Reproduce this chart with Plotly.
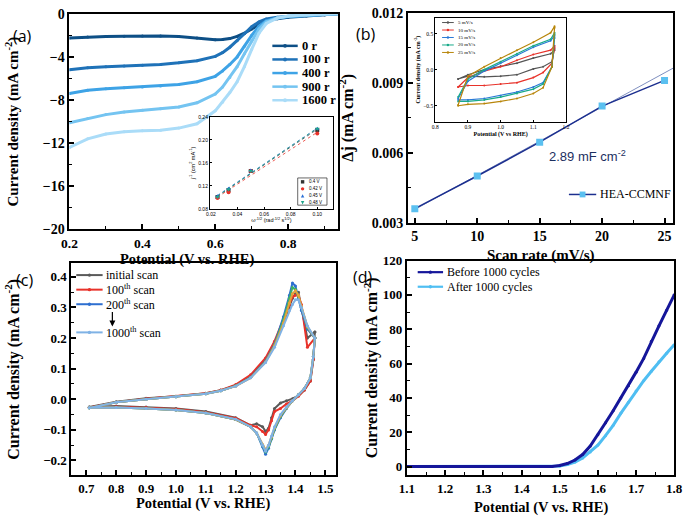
import plotly.graph_objects as go
import numpy as np

W, H = 693, 523

# ---------------- Panel (a): LSV at different rotation rates ----------------
pot_a = [0.2, 0.25, 0.3, 0.35, 0.4, 0.45, 0.5, 0.55, 0.6, 0.62, 0.64, 0.66, 0.68, 0.7, 0.72, 0.74, 0.77, 0.8, 0.85, 0.9, 0.935]
j_0r = [-2.25, -2.15, -2.1, -2.08, -2.05, -2.05, -2.1, -2.25, -2.4, -2.38, -2.3, -2.1, -1.8, -1.4, -1.0, -0.65, -0.45, -0.32, -0.2, -0.1, 0.0]
j_100r = [-5.2, -5.0, -4.9, -4.85, -4.78, -4.7, -4.55, -4.35, -3.95, -3.6, -3.1, -2.5, -1.85, -1.2, -0.75, -0.48, -0.32, -0.25, -0.15, -0.07, 0.0]
j_400r = [-7.4, -7.1, -6.95, -6.85, -6.78, -6.7, -6.55, -6.3, -5.8, -5.3, -4.7, -4.0, -3.0, -2.0, -1.15, -0.65, -0.38, -0.25, -0.15, -0.06, 0.0]
j_900r = [-10.1, -9.7, -9.35, -9.1, -8.95, -8.8, -8.65, -8.25, -7.45, -6.8, -5.9, -4.9, -3.7, -2.5, -1.4, -0.75, -0.38, -0.22, -0.12, -0.05, 0.0]
j_1600r = [-12.4, -11.6, -11.15, -10.95, -10.85, -10.8, -10.6, -10.2, -9.0, -8.2, -7.3, -6.3, -4.9, -3.3, -1.8, -0.9, -0.4, -0.2, -0.08, -0.03, 0.0]
names_a = ["0 r", "100 r", "400 r", "900 r", "1600 r"]
colors_a = ["#0d4f86", "#1f72b8", "#3ea3e6", "#74c4f1", "#aadcf8"]

# ---------------- Inset (a): K-L plot ----------------
omega_kl = [0.025, 0.0333, 0.05, 0.1]
kl_040 = [0.101, 0.113, 0.146, 0.217]
kl_042 = [0.099, 0.109, 0.146, 0.211]
kl_045 = [0.102, 0.115, 0.147, 0.219]
kl_048 = [0.101, 0.114, 0.146, 0.219]
names_kl = ["0.4 V", "0.42 V", "0.45 V", "0.48 V"]
colors_kl = ["#333333", "#e8322a", "#2a6fd6", "#1fa58a"]
symbols_kl = ["square", "circle", "triangle-up", "triangle-down"]

# ---------------- Panel (b): Cdl ----------------
scan_rate = [5, 10, 15, 20, 25]
delta_j = [0.0036, 0.0050, 0.00645, 0.0080, 0.0091]
cdl_label = "2.89 mF cm<sup>-2</sup>"
name_b = "HEA-CCMNF"

# ---------------- Inset (b): CVs at scan rates ----------------
cv_names = ["5 mV/s", "10 mV/s", "15 mV/s", "20 mV/s", "25 mV/s"]
cv_colors = ["#555555", "#e8322a", "#2a7ad6", "#1aaa8a", "#b8860b"]
cv_pot = [0.87, 0.9, 0.95, 1.0, 1.05, 1.1, 1.153, 1.165, 1.165, 1.157, 1.13, 1.1, 1.05, 1.0, 0.95, 0.9, 0.87]
cv_5 = [-0.13, -0.07, 0.0, 0.05, 0.09, 0.16, 0.22, 0.27, 0.29, 0.11, 0.04, 0.01, -0.07, -0.09, -0.1, -0.09, -0.13]
cv_10 = [-0.24, -0.11, -0.02, 0.04, 0.13, 0.21, 0.27, 0.33, 0.31, 0.09, -0.04, -0.11, -0.18, -0.2, -0.22, -0.22, -0.24]
cv_15 = [-0.4, -0.16, -0.02, 0.09, 0.2, 0.31, 0.4, 0.47, 0.44, 0.04, -0.18, -0.24, -0.31, -0.36, -0.4, -0.42, -0.42]
cv_20 = [-0.38, -0.13, 0.0, 0.11, 0.22, 0.33, 0.42, 0.51, 0.49, 0.04, -0.2, -0.27, -0.33, -0.38, -0.42, -0.44, -0.44]
cv_25 = [-0.49, -0.09, 0.04, 0.16, 0.27, 0.38, 0.51, 0.6, 0.58, 0.04, -0.25, -0.33, -0.4, -0.44, -0.47, -0.48, -0.5]

# ---------------- Panel (c): CV stability ----------------
pot_c = [0.71, 0.8, 0.9, 1.0, 1.1, 1.15, 1.2, 1.25, 1.3, 1.33, 1.36, 1.38, 1.39, 1.40, 1.41, 1.42, 1.44, 1.465,
         1.465, 1.46, 1.45, 1.43, 1.41, 1.39, 1.37, 1.35, 1.33, 1.32, 1.31, 1.30, 1.29, 1.27, 1.25, 1.2, 1.1, 1.0, 0.9, 0.8, 0.71]
cv_initial = [-0.025, -0.008, 0.003, 0.01, 0.02, 0.03, 0.045, 0.075, 0.13, 0.18, 0.25, 0.30, 0.33, 0.345, 0.35, 0.3, 0.2, 0.22,
              0.22, 0.13, 0.06, 0.03, 0.012, 0.002, -0.005, -0.012, -0.03, -0.06, -0.095, -0.105, -0.09, -0.08, -0.085, -0.06, -0.04, -0.03, -0.025, -0.022, -0.025]
cv_100 = [-0.027, -0.01, 0.002, 0.01, 0.02, 0.03, 0.048, 0.08, 0.135, 0.19, 0.26, 0.31, 0.335, 0.34, 0.34, 0.31, 0.17, 0.2,
          0.2, 0.13, 0.06, 0.03, 0.01, -0.005, -0.015, -0.03, -0.04, -0.07, -0.1, -0.115, -0.105, -0.09, -0.085, -0.062, -0.042, -0.032, -0.027, -0.024, -0.027]
cv_200 = [-0.028, -0.01, 0.0, 0.008, 0.018, 0.028, 0.044, 0.072, 0.125, 0.18, 0.27, 0.34, 0.38, 0.37, 0.33, 0.29, 0.23, 0.2,
          0.2, 0.14, 0.07, 0.035, 0.015, -0.005, -0.03, -0.06, -0.1, -0.13, -0.16, -0.18, -0.155, -0.11, -0.09, -0.066, -0.045, -0.035, -0.03, -0.027, -0.028]
cv_500 = [-0.028, -0.01, 0.0, 0.008, 0.018, 0.028, 0.044, 0.071, 0.123, 0.177, 0.26, 0.33, 0.365, 0.36, 0.335, 0.3, 0.235, 0.2,
          0.2, 0.14, 0.07, 0.035, 0.015, -0.005, -0.028, -0.056, -0.097, -0.127, -0.155, -0.172, -0.15, -0.11, -0.09, -0.066, -0.045, -0.035, -0.03, -0.027, -0.028]
cv_800 = [-0.028, -0.01, 0.0, 0.008, 0.018, 0.028, 0.043, 0.07, 0.122, 0.175, 0.25, 0.315, 0.345, 0.355, 0.34, 0.305, 0.238, 0.2,
          0.2, 0.14, 0.07, 0.035, 0.015, -0.005, -0.027, -0.053, -0.093, -0.123, -0.15, -0.165, -0.148, -0.11, -0.09, -0.066, -0.045, -0.035, -0.03, -0.027, -0.028]
cv_1000 = [-0.028, -0.01, 0.0, 0.008, 0.018, 0.028, 0.043, 0.07, 0.12, 0.17, 0.24, 0.29, 0.31, 0.325, 0.325, 0.3, 0.24, 0.2,
           0.2, 0.14, 0.07, 0.035, 0.015, -0.005, -0.025, -0.05, -0.09, -0.12, -0.15, -0.17, -0.15, -0.11, -0.09, -0.065, -0.045, -0.035, -0.03, -0.027, -0.028]
names_c = ["initial scan", "100<sup>th</sup> scan", "200<sup>th</sup> scan", "1000<sup>th</sup> scan"]

# ---------------- Panel (d): LSV before/after ----------------
pot_d = [1.1, 1.2, 1.3, 1.4, 1.45, 1.48, 1.5, 1.52, 1.54, 1.56, 1.58, 1.6, 1.62, 1.64, 1.66, 1.68, 1.7, 1.72, 1.74, 1.76, 1.78, 1.8]
j_before = [0, 0, 0, 0, 0, 0.1, 0.6, 1.8, 3.8, 7.0, 12.0, 18.5, 25.5, 32.5, 40, 47, 55, 63, 73, 82, 91, 100]
j_after = [0, 0, 0, 0, 0, 0.05, 0.4, 1.2, 2.6, 5.0, 8.5, 12.5, 18, 24, 31, 37.5, 44, 50, 55.5, 61, 66, 71]
names_d = ["Before 1000 cycles", "After 1000 cycles"]


def dom_x(a, b):
    return [a / W, b / W]


def dom_y(top, bottom):
    return [1 - bottom / H, 1 - top / H]


def PX(px):
    return px / W


def PY(py):
    return 1 - py / H


SERIF = "Liberation Serif"
SANS = "Liberation Sans"

fig = go.Figure()
shapes = []
annots = []


def legend_entry(x0, x1, y, text, color, lw=2.5, marker="circle", ms=4, mcolor=None, size=12, family=SERIF,
                 weight="normal", tx=None, line=True):
    """Manual legend key: line segment + marker + label (pixel positions)."""
    mcolor = mcolor or color
    if line:
        shapes.append(dict(type="line", xref="paper", yref="paper", x0=PX(x0), x1=PX(x1), y0=PY(y), y1=PY(y),
                           line=dict(color=color, width=lw)))
    xc = (x0 + x1) / 2
    r = ms / 2
    if marker in ("circle", "square"):
        shapes.append(dict(type="circle" if marker == "circle" else "rect", xref="paper", yref="paper",
                           x0=PX(xc - r), x1=PX(xc + r), y0=PY(y + r), y1=PY(y - r),
                           fillcolor=mcolor, line=dict(width=0)))
    elif marker in ("triangle-up", "triangle-down"):
        s = 1 if marker == "triangle-up" else -1
        path = "M {:.5f},{:.5f} L {:.5f},{:.5f} L {:.5f},{:.5f} Z".format(
            PX(xc), PY(y - s * r), PX(xc - r), PY(y + s * r), PX(xc + r), PY(y + s * r))
        shapes.append(dict(type="path", xref="paper", yref="paper", path=path, fillcolor=mcolor, line=dict(width=0)))
    annots.append(dict(text=text, x=PX(tx if tx is not None else x1 + 2), y=PY(y), xref="paper", yref="paper",
                       xanchor="left", yanchor="middle", showarrow=False,
                       font=dict(family=family, size=size, color="black", weight=weight)))


def text_at(text, x, y, size, family=SERIF, weight="bold", angle=0, color="black", xanchor="center"):
    annots.append(dict(text=text, x=PX(x), y=PY(y), xref="paper", yref="paper", xanchor=xanchor,
                       yanchor="middle", showarrow=False, textangle=angle,
                       font=dict(family=family, size=size, color=color, weight=weight)))


# Panel (a)
for nm, yy, c in zip(names_a, [j_0r, j_100r, j_400r, j_900r, j_1600r], colors_a):
    fig.add_trace(go.Scatter(x=pot_a, y=yy, name=nm, mode="lines+markers", xaxis="x", yaxis="y",
                             line=dict(color=c, width=3), marker=dict(size=3, color=c)))
for i, (nm, c) in enumerate(zip(names_a, colors_a)):
    legend_entry(271, 297, 40 + 14 * i, nm, c, lw=2.5, ms=4, size=12.5, weight="bold", tx=299)

# Inset (a)
for nm, yy, c, s in zip(names_kl, [kl_040, kl_042, kl_045, kl_048], colors_kl, symbols_kl):
    p = np.polyfit(omega_kl, yy, 1)
    fx = [omega_kl[0], omega_kl[-1]]
    fig.add_trace(go.Scatter(x=fx, y=np.polyval(p, fx), mode="lines", xaxis="x2", yaxis="y2",
                             line=dict(color=c, width=0.8, dash="dot")))
    fig.add_trace(go.Scatter(x=omega_kl, y=yy, name=nm, mode="markers", xaxis="x2", yaxis="y2",
                             marker=dict(size=4, color=c, symbol=s)))
shapes.append(dict(type="rect", xref="paper", yref="paper", x0=PX(297), x1=PX(327), y0=PY(204), y1=PY(176),
                   line=dict(color="black", width=0.6), fillcolor="white"))
for i, (nm, c, s) in enumerate(zip(names_kl, colors_kl, symbols_kl)):
    legend_entry(300, 304, 180 + 7.2 * i, nm, c, marker=s, ms=3.5, size=4.5, family=SANS, tx=307, line=False)

# Panel (b)
pb = np.polyfit(scan_rate[:4], delta_j[:4], 1)
fxb = [scan_rate[0], 25.7]
fig.add_trace(go.Scatter(x=fxb, y=np.polyval(pb, fxb), mode="lines", xaxis="x3", yaxis="y3",
                         line=dict(color="#7f8fbf", width=1)))
fig.add_trace(go.Scatter(x=scan_rate, y=delta_j, name=name_b, mode="lines+markers", xaxis="x3", yaxis="y3",
                         line=dict(color="#1c2f8f", width=1.5), marker=dict(size=7, color="#5bc0f0", symbol="square")))
legend_entry(575, 603, 193, name_b, "#1c2f8f", lw=1.5, marker="square", ms=6, mcolor="#5bc0f0", size=12, tx=605)

# Inset (b)
for nm, yy, c in zip(cv_names, [cv_5, cv_10, cv_15, cv_20, cv_25], cv_colors):
    fig.add_trace(go.Scatter(x=cv_pot, y=yy, name=nm, mode="lines+markers", xaxis="x4", yaxis="y4",
                             line=dict(color=c, width=1.2), marker=dict(size=2, color=c)))
for i, (nm, c) in enumerate(zip(cv_names, cv_colors)):
    legend_entry(445, 457, 16 + 7.7 * i, nm, c, lw=1, ms=2.5, size=5, tx=459)

# Panel (c)
c_all = [(cv_initial, "#5a5a5a"), (cv_100, "#e8322a"), (cv_200, "#2e6fd0"), (cv_500, "#3cb06a"),
         (cv_800, "#e3a23a"), (cv_1000, "#7fb2e5")]
for yy, c in c_all:
    fig.add_trace(go.Scatter(x=pot_c, y=yy, mode="lines+markers", xaxis="x5", yaxis="y5",
                             line=dict(color=c, width=2), marker=dict(size=3, color=c)))
legend_c_y = [276, 291, 306, 335]
legend_c_col = ["#5a5a5a", "#e8322a", "#2e6fd0", "#7fb2e5"]
for nm, y, c in zip(names_c, legend_c_y, legend_c_col):
    legend_entry(70, 97, y, nm, c, lw=2, ms=3.5, size=12, tx=98)
annots.append(dict(text="", x=PX(107), y=PY(329), ax=0, ay=-16, xref="paper", yref="paper",
                   axref="pixel", ayref="pixel", showarrow=True, arrowhead=2, arrowsize=1, arrowwidth=1.2,
                   arrowcolor="black"))

# Panel (d)
fig.add_trace(go.Scatter(x=pot_d, y=j_after, name=names_d[1], mode="lines+markers", xaxis="x6", yaxis="y6",
                         line=dict(color="#4fbef2", width=3), marker=dict(size=3, color="#4fbef2")))
fig.add_trace(go.Scatter(x=pot_d, y=j_before, name=names_d[0], mode="lines+markers", xaxis="x6", yaxis="y6",
                         line=dict(color="#15169a", width=3), marker=dict(size=3, color="#15169a")))
legend_entry(420, 446, 273, names_d[0], "#15169a", lw=2.2, ms=3.5, size=12, tx=448)
legend_entry(420, 446, 288, names_d[1], "#4fbef2", lw=2.2, ms=3.5, size=12, tx=448)


def main_axis(domain, rng, dtick, mdtick, title, anchor, fmt=None, size=14, tsize=16, standoff=None):
    d = dict(domain=domain, range=rng, dtick=dtick, anchor=anchor, showline=True, mirror=True, linecolor="black",
             linewidth=2, ticks="inside", ticklen=5, tickwidth=1.5, tickcolor="black", showgrid=False, zeroline=False,
             tickfont=dict(family=SERIF, size=size, color="black", weight="bold"),
             title=dict(text=title, font=dict(family=SERIF, size=tsize, color="black", weight="bold")),
             minor=dict(dtick=mdtick, ticks="inside", ticklen=3, tickwidth=1, tickcolor="black", showgrid=False))
    if fmt:
        d["tickformat"] = fmt
    if standoff is not None:
        d["title"]["standoff"] = standoff
    return d


def inset_axis(domain, rng, dtick, title, anchor, fmt, family=SANS, size=5, tsize=5.5):
    return dict(domain=domain, range=rng, dtick=dtick, anchor=anchor, showline=True, mirror=True, linecolor="black",
                linewidth=1, ticks="inside", ticklen=2, tickwidth=0.8, tickcolor="black", showgrid=False,
                zeroline=False, tickformat=fmt,
                tickfont=dict(family=family, size=size, color="black"),
                title=dict(text=title, font=dict(family=family, size=tsize, color="black"), standoff=2))


# x-axis titles placed as text, to sit just under the tick labels like the reference
text_at("Potential (V vs. RHE)", 183, 259.5, 14.5)
text_at("Scan rate (mV/s)", 546, 256, 15)
text_at("Potential (V vs. RHE)", 200, 511, 14.5)
text_at("Potential (V vs. RHE)", 546, 515, 14.5)

panel_labels = [("(a)", 3, 30), ("(b)", 355, 28), ("(c)", 6, 281), ("(d)", 352, 278)]
for t, x, y in panel_labels:
    text_at(t, x, y, 16, family="Open Sans", weight="normal", xanchor="left")
annots.append(dict(text=cdl_label, x=15.6, y=0.00585, xref="x3", yref="y3", xanchor="left", yanchor="middle",
                   showarrow=False, font=dict(family=SANS, size=13, color="#1c2f5f")))

fig.update_layout(
    width=W, height=H, margin=dict(l=0, r=0, t=0, b=0), paper_bgcolor="white", plot_bgcolor="rgba(0,0,0,0)",
    showlegend=False,
    # (a)
    xaxis=main_axis(dom_x(63, 338), [0.2, 0.936], 0.2, 0.1, "", "y", fmt=".1f", size=13.5),
    yaxis=main_axis(dom_y(7, 229), [-20, 0], 4, 2, "Current density (mA cm<sup>-2</sup>)", "x", tsize=15, standoff=20),
    # inset (a)
    xaxis2=inset_axis(dom_x(207, 333), [0.0193, 0.1117], 0.02, "ω<sup>-1/2</sup> (rad<sup>-1/2</sup> s<sup>1/2</sup>)", "y2", ".2f"),
    yaxis2=inset_axis(dom_y(113, 208), [0.08, 0.24], 0.04, "j<sup>-1</sup> (cm<sup>2</sup> mA<sup>-1</sup>)", "x2", ".2f"),
    # (b)
    xaxis3=main_axis(dom_x(410, 682), [4.45, 25.7], 5, 2.5, "", "y3"),
    yaxis3=main_axis(dom_y(6, 222), [0.003, 0.012], 0.003, 0.0015, "Δj (mA cm<sup>-2</sup>)", "x3", fmt=".3f", standoff=14),
    # inset (b)
    xaxis4=inset_axis(dom_x(438, 572), [0.8, 1.2], 0.1, "<b>Potential (V vs RHE)</b>", "y4", ".1f", family=SERIF, size=5.5, tsize=6),
    yaxis4=inset_axis(dom_y(11, 118), [-0.72, 0.72], 0.5, "<b>Current density (mA cm<sup>-2</sup>)</b>", "x4", ".1f", family=SERIF, size=5.5, tsize=6),
    # (c)
    xaxis5=main_axis(dom_x(65, 336), [0.65, 1.535], 0.1, 0.05, "", "y5", fmt=".1f", size=13),
    yaxis5=main_axis(dom_y(264, 482), [-0.248, 0.444], 0.1, 0.05, "Current density (mA cm<sup>-2</sup>)", "x5", fmt=".1f", size=13, standoff=20),
    # (d)
    xaxis6=main_axis(dom_x(409, 683), [1.1, 1.8], 0.1, 0.05, "", "y6", fmt=".1f", size=13),
    yaxis6=main_axis(dom_y(261, 482), [-5, 120], 20, 10, "Current density (mA cm<sup>-2</sup>)", "x6", size=13, standoff=1),
    shapes=shapes,
    annotations=annots,
)

fig.write_html("out.html")
